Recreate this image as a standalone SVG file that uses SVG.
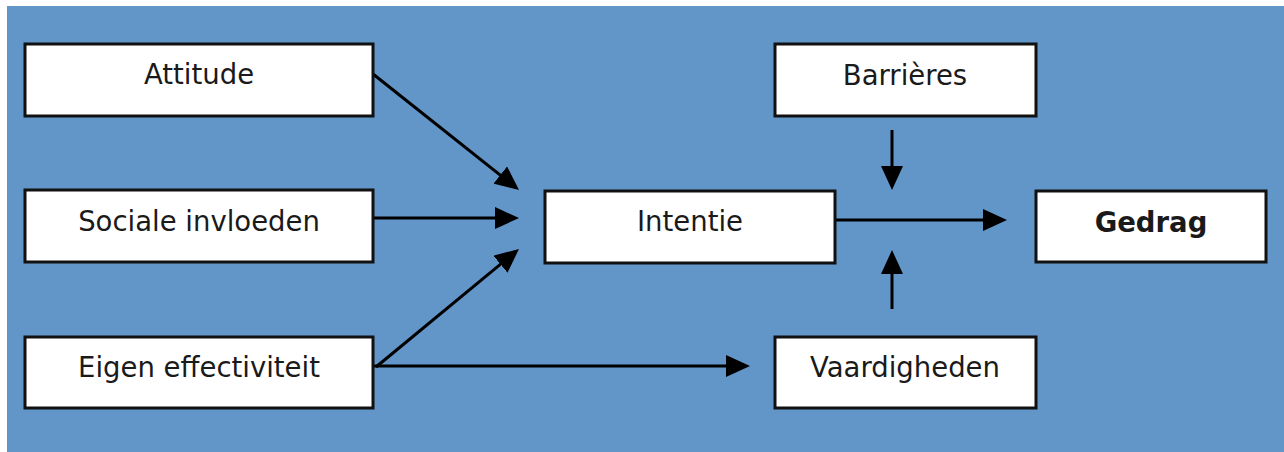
<svg xmlns="http://www.w3.org/2000/svg" width="1284" height="452" viewBox="0 0 1284 452">
  <defs>
    <marker id="arrow" viewBox="0 0 24 22" refX="20" refY="11" markerWidth="24" markerHeight="22" markerUnits="userSpaceOnUse" orient="auto">
      <path d="M0,0 L24,11 L0,22 Z" fill="#000"/>
    </marker>
    <style>
      .box { fill: #ffffff; stroke: #111111; stroke-width: 3; }
      .lbl { font-family: "DejaVu Sans", "Liberation Sans", sans-serif; font-size: 27.5px; fill: #1a1a1a; text-anchor: middle; }
      .bold { font-weight: bold; font-size: 27.5px; }
      .conn { stroke: #000; stroke-width: 3; fill: none; marker-end: url(#arrow); }
    </style>
  </defs>
  <rect x="0" y="0" width="1284" height="452" fill="#ffffff"/>
  <rect x="7" y="6" width="1277" height="446" fill="#6295c8"/>

  <g id="connectors">
    <line class="conn" x1="373" y1="74" x2="515.9" y2="187.5"/>
    <line class="conn" x1="373" y1="218" x2="515" y2="218"/>
    <line class="conn" x1="376" y1="367" x2="515.9" y2="251.5"/>
    <line class="conn" x1="373" y1="366" x2="746" y2="366"/>
    <line class="conn" x1="835" y1="220" x2="1003" y2="220"/>
    <line class="conn" x1="892" y1="130" x2="892" y2="186"/>
    <line class="conn" x1="892" y1="309" x2="892" y2="254"/>
  </g>

  <g id="attitude">
    <rect class="box" x="25" y="44" width="348" height="72"/>
    <text class="lbl" x="199" y="84">Attitude</text>
  </g>
  <g id="sociale-invloeden">
    <rect class="box" x="25" y="190" width="348" height="72"/>
    <text class="lbl" x="199" y="231">Sociale invloeden</text>
  </g>
  <g id="eigen-effectiviteit">
    <rect class="box" x="25" y="337" width="348" height="71"/>
    <text class="lbl" x="199" y="377">Eigen effectiviteit</text>
  </g>
  <g id="intentie">
    <rect class="box" x="545" y="191" width="290" height="72"/>
    <text class="lbl" x="690" y="231">Intentie</text>
  </g>
  <g id="barrieres">
    <rect class="box" x="775" y="44" width="261" height="72"/>
    <text class="lbl" x="905" y="85">Barrières</text>
  </g>
  <g id="gedrag">
    <rect class="box" x="1036" y="191" width="230" height="71"/>
    <text class="lbl bold" x="1151" y="232">Gedrag</text>
  </g>
  <g id="vaardigheden">
    <rect class="box" x="775" y="337" width="261" height="71"/>
    <text class="lbl" x="905" y="377">Vaardigheden</text>
  </g>
</svg>
